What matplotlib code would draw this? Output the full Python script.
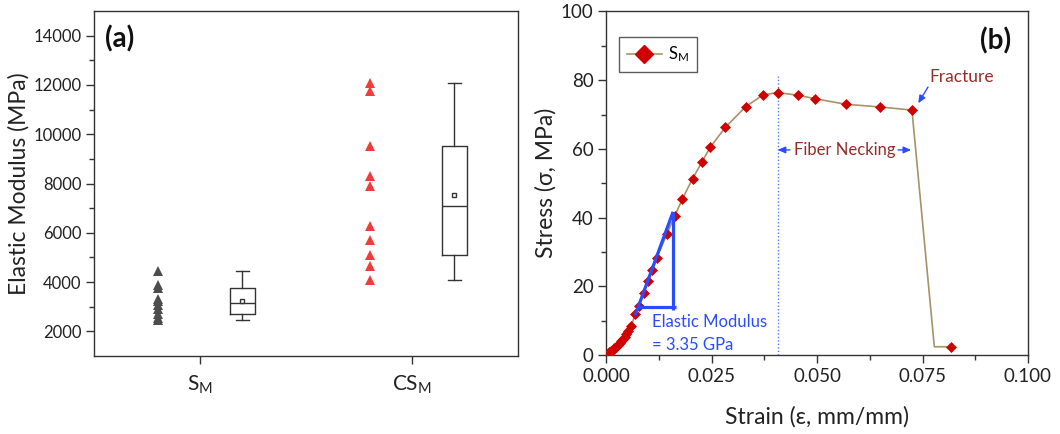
import numpy as np
import matplotlib
matplotlib.use("Agg")
import matplotlib.pyplot as plt
from matplotlib.lines import Line2D

plt.rcParams['font.family'] = ['Lato', 'DejaVu Sans']
plt.rcParams['mathtext.fontset'] = 'custom'
plt.rcParams['mathtext.rm'] = 'Lato'
plt.rcParams['mathtext.it'] = 'Lato:italic'

# ---- (a) elastic modulus of the two sample groups (MPa) ----
groups = [r'S$_\mathregular{M}$', r'CS$_\mathregular{M}$']
modulus_sm = [4430, 3900, 3770, 3300, 3220, 3050, 2900, 2720, 2540, 2470]
modulus_csm = [12070, 11770, 9540, 8320, 7900, 6260, 5690, 5080, 4650, 4090]
group_colors = ['#4d4d4d', '#f03c3c']

# ---- (b) stress-strain curve of S_M ----
strain = [0.0000, 0.0004, 0.0008, 0.0012, 0.0016, 0.0020, 0.0024, 0.0028,
          0.0032, 0.0036, 0.0040, 0.0044, 0.0048, 0.0052, 0.0060, 0.0069,
          0.0078, 0.0089, 0.0099, 0.0109, 0.0120, 0.0144, 0.0163, 0.0181,
          0.0205, 0.0227, 0.0247, 0.0283, 0.0331, 0.0372, 0.0407, 0.0456,
          0.0496, 0.0568, 0.0650, 0.0725, 0.0778, 0.0817]
stress = [0.0, 0.4, 0.8, 1.1, 1.5, 1.9, 2.4, 2.9,
          3.4, 4.0, 4.6, 5.3, 6.1, 6.9, 8.5, 11.8,
          14.3, 18.0, 21.4, 24.8, 28.2, 35.1, 40.5, 45.4,
          51.3, 56.1, 60.5, 66.3, 72.3, 75.7, 76.4, 75.6,
          74.6, 73.0, 72.2, 71.3, 2.4, 2.4]
marked = [i for i in range(len(strain)) if i != len(strain) - 2]

modulus_gpa = 3.35           # slope of the elastic triangle
tri_top = (0.0159, 41.7)     # upper corner of the triangle
tri_base = 14.0              # stress level of the triangle base
necking_start = 0.0407
fracture = (0.0725, 71.3)

fig = plt.figure(figsize=(10.6, 4.34), dpi=100)
ax_a = fig.add_axes([94 / 1060, 1 - 356 / 434, 424 / 1060, 345 / 434])
ax_b = fig.add_axes([606 / 1060, 1 - 355 / 434, 422 / 1060, 343.5 / 434])

spine_col = '#333333'
for ax in (ax_a, ax_b):
    for s in ax.spines.values():
        s.set_color(spine_col)
        s.set_linewidth(1.0)

# ---------------- panel (a) ----------------
pos = [1, 2]
offset = 0.2
for p, vals, col in zip(pos, [modulus_sm, modulus_csm], group_colors):
    ax_a.plot([p - offset] * len(vals), vals, linestyle='none', marker='^',
              markersize=7.5, color=col, markeredgewidth=0)

stats = []
for vals in (modulus_sm, modulus_csm):
    v = np.asarray(vals, dtype=float)
    stats.append(dict(
        med=np.median(v),
        q1=np.percentile(v, 25, method='nearest'),
        q3=np.percentile(v, 75, method='nearest'),
        whislo=v.min(), whishi=v.max(), mean=v.mean(), fliers=[]))

line_kw = dict(color='#333333', linewidth=1.0)
ax_a.bxp(stats, positions=[p + offset for p in pos], widths=0.115,
         capwidths=0.065, showmeans=True, manage_ticks=False,
         boxprops=line_kw, whiskerprops=line_kw, capprops=line_kw,
         medianprops=line_kw,
         meanprops=dict(marker='s', markersize=3.5, markerfacecolor='white',
                        markeredgecolor='#333333', markeredgewidth=1.0))

ax_a.set_xlim(0.5, 2.5)
ax_a.set_ylim(1000, 15000)
ax_a.set_xticks(pos)
ax_a.set_xticklabels(groups, fontsize=15)
ax_a.set_yticks(np.arange(2000, 14001, 2000))
ax_a.set_yticks(np.arange(3000, 13001, 2000), minor=True)
ax_a.tick_params(axis='y', which='major', length=6, width=1, labelsize=12,
                 pad=3, color=spine_col, labelcolor='#222222')
ax_a.tick_params(axis='y', which='minor', length=3.5, width=1, color=spine_col)
ax_a.tick_params(axis='x', which='major', length=6, width=1, pad=7,
                 color=spine_col, labelcolor='#222222')
ax_a.set_ylabel('Elastic Modulus (MPa)', fontsize=16.5, color='#222222')
ax_a.yaxis.label.set_va('center')
ax_a.yaxis.set_label_coords(-0.178, 0.5)
ax_a.text(0.027, 0.92, '(a)', transform=ax_a.transAxes, fontsize=20,
          fontweight='bold', ha='left', va='center', color='#111111')

# ---------------- panel (b) ----------------
curve_col = '#a89268'
ax_b.plot(strain, stress, color=curve_col, linewidth=1.2, marker='D',
          markersize=5.5, markerfacecolor='#d00000', markeredgecolor='#d00000',
          markeredgewidth=0.5, markevery=marked, zorder=3)

blue = '#2a4cff'
run = (tri_top[1] - tri_base) / (modulus_gpa * 1000)
x_corner = tri_top[0] - run
hyp_low = tri_base - 2.5
x_low = tri_top[0] - (tri_top[1] - hyp_low) / (modulus_gpa * 1000)
ax_b.plot([x_low, tri_top[0]], [hyp_low, tri_top[1]], color=blue, lw=2.3,
          solid_capstyle='butt', zorder=4)
ax_b.plot([x_corner - 0.0003, tri_top[0] + 0.0007], [tri_base, tri_base],
          color=blue, lw=2.3, solid_capstyle='butt', zorder=4)
ax_b.plot([tri_top[0], tri_top[0]], [tri_base - 0.8, tri_top[1]], color=blue,
          lw=2.3, solid_capstyle='butt', zorder=4)
ax_b.text(0.0109, 9.7, 'Elastic Modulus', color=blue, fontsize=12,
          ha='left', va='center')
ax_b.text(0.0109, 2.9, '= %.2f GPa' % modulus_gpa, color=blue, fontsize=12,
          ha='left', va='center')

ax_b.plot([necking_start, necking_start], [0, 81.3], color='#5a7dff',
          lw=1.0, linestyle=(0, (1, 1.5)), zorder=2)
txt_red = '#9a2b2b'
ax_b.text(0.0566, 59.7, 'Fiber Necking', color=txt_red, fontsize=12,
          ha='center', va='center')
arrow_kw = dict(arrowstyle='-|>,head_length=0.45,head_width=0.2',
                color=blue, lw=1.0, shrinkA=0, shrinkB=0)
ax_b.annotate('', xy=(necking_start, 59.7), xytext=(0.0436, 59.7),
              arrowprops=arrow_kw)
ax_b.annotate('', xy=(fracture[0] - 0.0002, 59.7), xytext=(0.0692, 59.7),
              arrowprops=arrow_kw)
ax_b.text(0.0767, 80.9, 'Fracture', color=txt_red, fontsize=12.5,
          ha='left', va='center')
ax_b.annotate('', xy=(0.0740, 73.3), xytext=(0.0763, 78.0),
              arrowprops=arrow_kw)

ax_b.set_xlim(0, 0.1)
ax_b.set_ylim(0, 100)
ax_b.set_xticks(np.arange(0, 0.1001, 0.025))
ax_b.set_xticks(np.arange(0.0125, 0.1, 0.025), minor=True)
ax_b.set_xticklabels(['%.3f' % t for t in np.arange(0, 0.1001, 0.025)])
ax_b.set_yticks(np.arange(0, 101, 20))
ax_b.set_yticks(np.arange(10, 100, 20), minor=True)
ax_b.tick_params(which='major', length=6, width=1, labelsize=13.5, pad=3,
                 color=spine_col, labelcolor='#222222')
ax_b.tick_params(which='minor', length=3.5, width=1, color=spine_col)
ax_b.set_xlabel('Strain (ε, mm/mm)', fontsize=16.5, color='#222222')
ax_b.xaxis.label.set_va('center')
ax_b.xaxis.set_label_coords(0.5, -0.18)
ax_b.set_ylabel('Stress (σ, MPa)', fontsize=16.5, color='#222222')
ax_b.yaxis.label.set_va('center')
ax_b.yaxis.set_label_coords(-0.142, 0.5)
ax_b.text(0.96, 0.915, '(b)', transform=ax_b.transAxes, fontsize=20,
          fontweight='bold', ha='right', va='center', color='#111111')

handle = Line2D([], [], color=curve_col, lw=1.2, marker='D', markersize=9,
                markerfacecolor='#d00000', markeredgecolor='#d00000')
leg = ax_b.legend([handle], [r'S$_\mathregular{M}$'], loc='upper left',
                  bbox_to_anchor=(0.031, 0.926), borderaxespad=0,
                  fontsize=12, frameon=True, fancybox=False,
                  handlelength=2.1, handletextpad=0.4, borderpad=0.45)
leg.get_frame().set_edgecolor('#333333')
leg.get_frame().set_linewidth(1.0)

fig.savefig('out.png', dpi=100)
